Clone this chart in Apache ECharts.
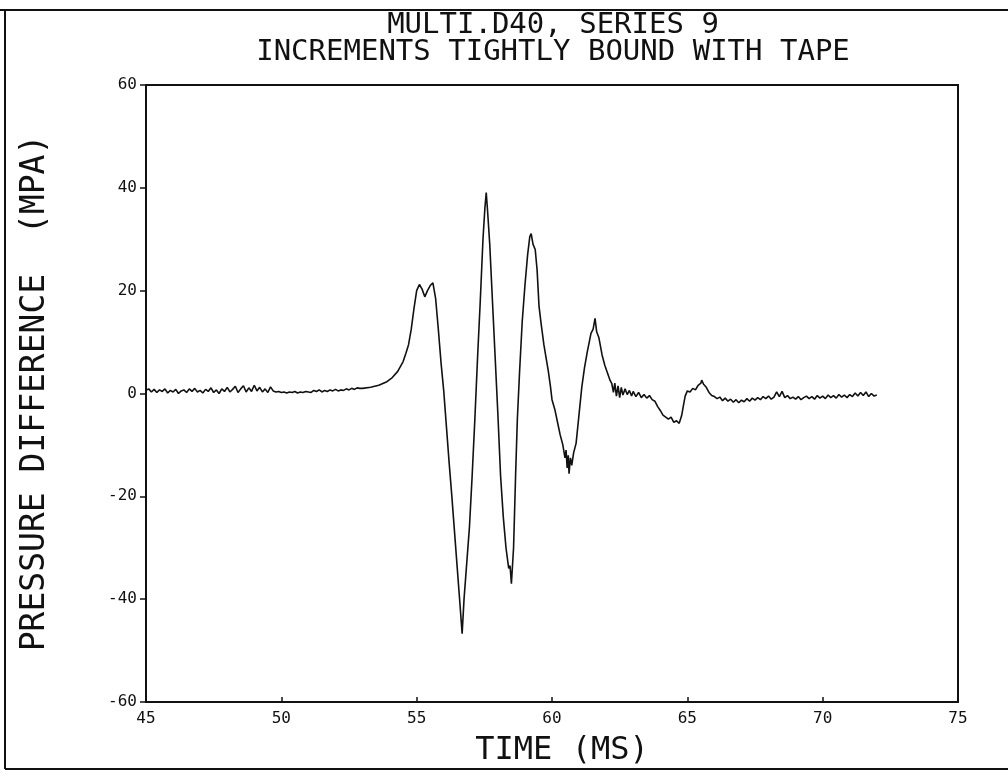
<!DOCTYPE html>
<html>
<head>
<meta charset="utf-8">
<script src="https://cdn.jsdelivr.net/npm/echarts@6/dist/echarts.min.js"></script>
<style>html,body{margin:0;padding:0;background:#fff;}#c{width:1008px;height:771px;}</style>
</head>
<body>
<div id="c"></div>
<script>
var titleLines = ["MULTI.D40, SERIES 9", "INCREMENTS TIGHTLY BOUND WITH TAPE"];
var xAxisTitle = "TIME (MS)";
var yAxisTitle = "PRESSURE DIFFERENCE  (MPA)";
var xTicks = [45, 50, 55, 60, 65, 70, 75];
var yTicks = [-60, -40, -20, 0, 20, 40, 60];

var timeMs = [
45.0,45.1,45.2,45.3,45.4,45.5,45.6,45.7,45.8,45.9,
46.0,46.1,46.2,46.3,46.4,46.5,46.6,46.7,46.8,46.9,
47.0,47.1,47.2,47.3,47.4,47.5,47.6,47.7,47.8,47.9,
48.0,48.1,48.2,48.3,48.4,48.5,48.6,48.7,48.8,48.9,
49.0,49.1,49.2,49.3,49.4,49.5,49.6,49.7,49.8,49.9,
50.0,50.1,50.2,50.3,50.4,50.5,50.6,50.7,50.8,50.9,
51.0,51.1,51.2,51.3,51.4,51.5,51.6,51.7,51.8,51.9,
52.0,52.1,52.2,52.3,52.4,52.5,52.6,52.7,52.8,52.9,
53.0,53.3,53.6,53.9,54.1,54.3,54.5,54.6,54.7,54.8,54.9,
55.0,55.1,55.2,55.3,55.4,55.5,55.6,55.7,55.8,55.9,
56.0,56.1,56.2,56.3,56.4,56.5,56.6,56.68,56.75,56.85,56.95,
57.05,57.15,57.25,57.35,57.45,57.52,57.57,57.62,57.7,57.8,57.9,
58.0,58.1,58.2,58.3,58.4,58.45,58.5,58.58,58.66,58.72,58.8,58.9,
59.0,59.1,59.18,59.23,59.3,59.38,59.45,59.52,59.6,59.7,59.78,59.86,59.94,
60.0,60.1,60.2,60.3,60.4,60.48,60.52,60.56,60.6,60.63,60.68,60.73,60.8,60.89,
61.0,61.1,61.2,61.3,61.44,61.52,61.59,61.65,61.73,61.85,61.95,
62.05,62.15,62.21,62.27,62.32,62.38,62.44,62.5,62.56,62.62,62.7,62.78,62.86,62.94,
63.0,63.1,63.2,63.3,63.4,63.5,63.6,63.7,63.8,63.9,
64.0,64.1,64.2,64.3,64.4,64.5,64.6,64.7,64.79,64.85,64.92,
65.0,65.1,65.2,65.3,65.4,65.5,65.53,65.6,65.7,65.8,65.9,
66.0,66.1,66.2,66.3,66.4,66.5,66.6,66.7,66.8,66.9,
67.0,67.1,67.2,67.3,67.4,67.5,67.6,67.7,67.8,67.9,
68.0,68.1,68.2,68.3,68.4,68.5,68.6,68.7,68.8,68.9,
69.0,69.1,69.2,69.3,69.4,69.5,69.6,69.7,69.8,69.9,
70.0,70.1,70.2,70.3,70.4,70.5,70.6,70.7,70.8,70.9,
71.0,71.1,71.2,71.3,71.4,71.5,71.6,71.7,71.8,71.9,72.0
];

var pressureMPa = [
0.6,0.9,0.3,0.8,0.2,0.7,0.4,0.9,0.1,0.6,
0.3,0.8,0.0,0.5,0.7,0.2,0.9,0.4,1.0,0.3,
0.6,0.1,0.8,0.4,1.1,0.2,0.7,0.0,0.9,0.4,
1.2,0.3,0.8,1.4,0.2,0.9,1.5,0.3,1.1,0.4,
1.6,0.5,1.2,0.3,0.9,0.2,1.3,0.5,0.3,0.4,
0.2,0.3,0.1,0.3,0.2,0.4,0.1,0.3,0.2,0.4,
0.3,0.2,0.6,0.4,0.7,0.3,0.6,0.4,0.7,0.5,
0.8,0.5,0.7,0.6,0.9,0.7,1.0,0.8,1.1,1.0,
1.0,1.2,1.6,2.3,3.1,4.3,6.2,7.8,9.5,12.5,16.5,
20.0,21.2,20.3,18.8,20.0,21.0,21.5,18.5,12.5,6.0,
0.5,-6.5,-13.5,-20.0,-27.0,-34.0,-41.0,-46.7,-40.0,-33.0,-26.0,
-16.0,-5.0,7.0,18.0,30.0,36.0,39.1,35.5,29.0,18.0,7.0,
-4.0,-16.0,-24.0,-30.0,-34.0,-33.5,-37.0,-30.0,-15.0,-5.0,4.0,14.0,
21.0,27.0,30.5,31.1,29.0,28.0,24.0,17.0,13.5,9.5,7.0,4.5,1.5,
-1.2,-3.0,-5.5,-8.0,-10.0,-12.5,-11.0,-14.5,-12.0,-15.6,-12.5,-14.0,-11.5,-9.7,
-4.0,1.2,5.0,8.0,11.7,12.5,14.6,12.0,10.9,7.5,5.5,
4.0,2.5,1.9,0.2,2.0,-0.5,1.5,-0.8,1.2,-0.3,0.9,-0.2,0.6,-0.5,
0.4,-0.6,0.2,-0.8,-0.2,-0.9,-0.4,-1.2,-1.5,-2.5,
-3.3,-4.2,-4.6,-5.0,-4.6,-5.6,-5.3,-5.8,-4.3,-2.5,-0.5,
0.5,0.3,1.0,0.7,1.6,2.0,2.6,1.8,1.2,0.2,-0.4,
-0.6,-1.0,-0.7,-1.4,-0.9,-1.5,-1.1,-1.7,-1.2,-1.8,
-1.3,-1.6,-1.0,-1.5,-0.9,-1.3,-0.8,-1.2,-0.6,-1.0,
-0.5,-1.1,-0.7,0.3,-0.6,0.4,-0.8,-0.4,-1.0,-0.7,
-1.1,-0.6,-1.2,-0.8,-0.5,-1.0,-0.6,-1.1,-0.4,-0.9,
-0.5,-1.0,-0.3,-0.8,-0.4,-0.9,-0.2,-0.7,-0.3,-0.8,
-0.2,-0.6,0.1,-0.5,0.2,-0.4,0.3,-0.6,0.0,-0.5,-0.3
];

var seriesData = timeMs.map(function (t, i) { return [t, pressureMPa[i]]; });

var FONT = "DejaVu Sans Mono";
var chart = echarts.init(document.getElementById('c'), null, {renderer: 'canvas'});
chart.setOption({
  backgroundColor: '#ffffff',
  animation: false,
  grid: {left: 146, right: 50, top: 85, bottom: 69, show: true, borderColor: '#111', borderWidth: 2, backgroundColor: 'transparent'},
  xAxis: {
    type: 'value', min: xTicks[0], max: xTicks[xTicks.length - 1], interval: 5,
    axisLine: {show: true, onZero: false, lineStyle: {color: '#111', width: 2}},
    axisTick: {show: true, inside: true, length: 5, lineStyle: {color: '#111', width: 1.5}},
    axisLabel: {fontFamily: FONT, fontSize: 16, color: '#111', margin: 9},
    splitLine: {show: false}
  },
  yAxis: {
    type: 'value', min: yTicks[0], max: yTicks[yTicks.length - 1], interval: 20,
    axisLine: {show: true, onZero: false, lineStyle: {color: '#111', width: 2}},
    axisTick: {show: true, inside: false, length: 6, lineStyle: {color: '#111', width: 1.5}},
    axisLabel: {fontFamily: FONT, fontSize: 16, color: '#111', margin: 9},
    splitLine: {show: false}
  },
  graphic: [
    {type: 'text', x: 553, y: 25,
     style: {text: titleLines[0], fontFamily: FONT, fontSize: 29, fill: '#111', textAlign: 'center', textVerticalAlign: 'middle'}},
    {type: 'text', x: 553, y: 52,
     style: {text: titleLines[1], fontFamily: FONT, fontSize: 29, fill: '#111', textAlign: 'center', textVerticalAlign: 'middle'}},
    {type: 'text', x: 35, y: 393, rotation: Math.PI / 2,
     style: {text: yAxisTitle, fontFamily: FONT, fontSize: 33, fill: '#111', textAlign: 'center', textVerticalAlign: 'middle'}},
    {type: 'text', x: 562, y: 751,
     style: {text: xAxisTitle, fontFamily: FONT, fontSize: 32, fill: '#111', textAlign: 'center', textVerticalAlign: 'middle'}},
    {type: 'line', shape: {x1: 0, y1: 10, x2: 1008, y2: 10}, style: {stroke: '#111', lineWidth: 2}},
    {type: 'line', shape: {x1: 5, y1: 10, x2: 5, y2: 769}, style: {stroke: '#111', lineWidth: 2}},
    {type: 'line', shape: {x1: 5, y1: 769, x2: 1008, y2: 769}, style: {stroke: '#111', lineWidth: 2}}
  ],
  series: [{
    type: 'line', data: seriesData, showSymbol: false, smooth: false,
    lineStyle: {color: '#111', width: 1.6}
  }]
});
</script>
</body>
</html>
